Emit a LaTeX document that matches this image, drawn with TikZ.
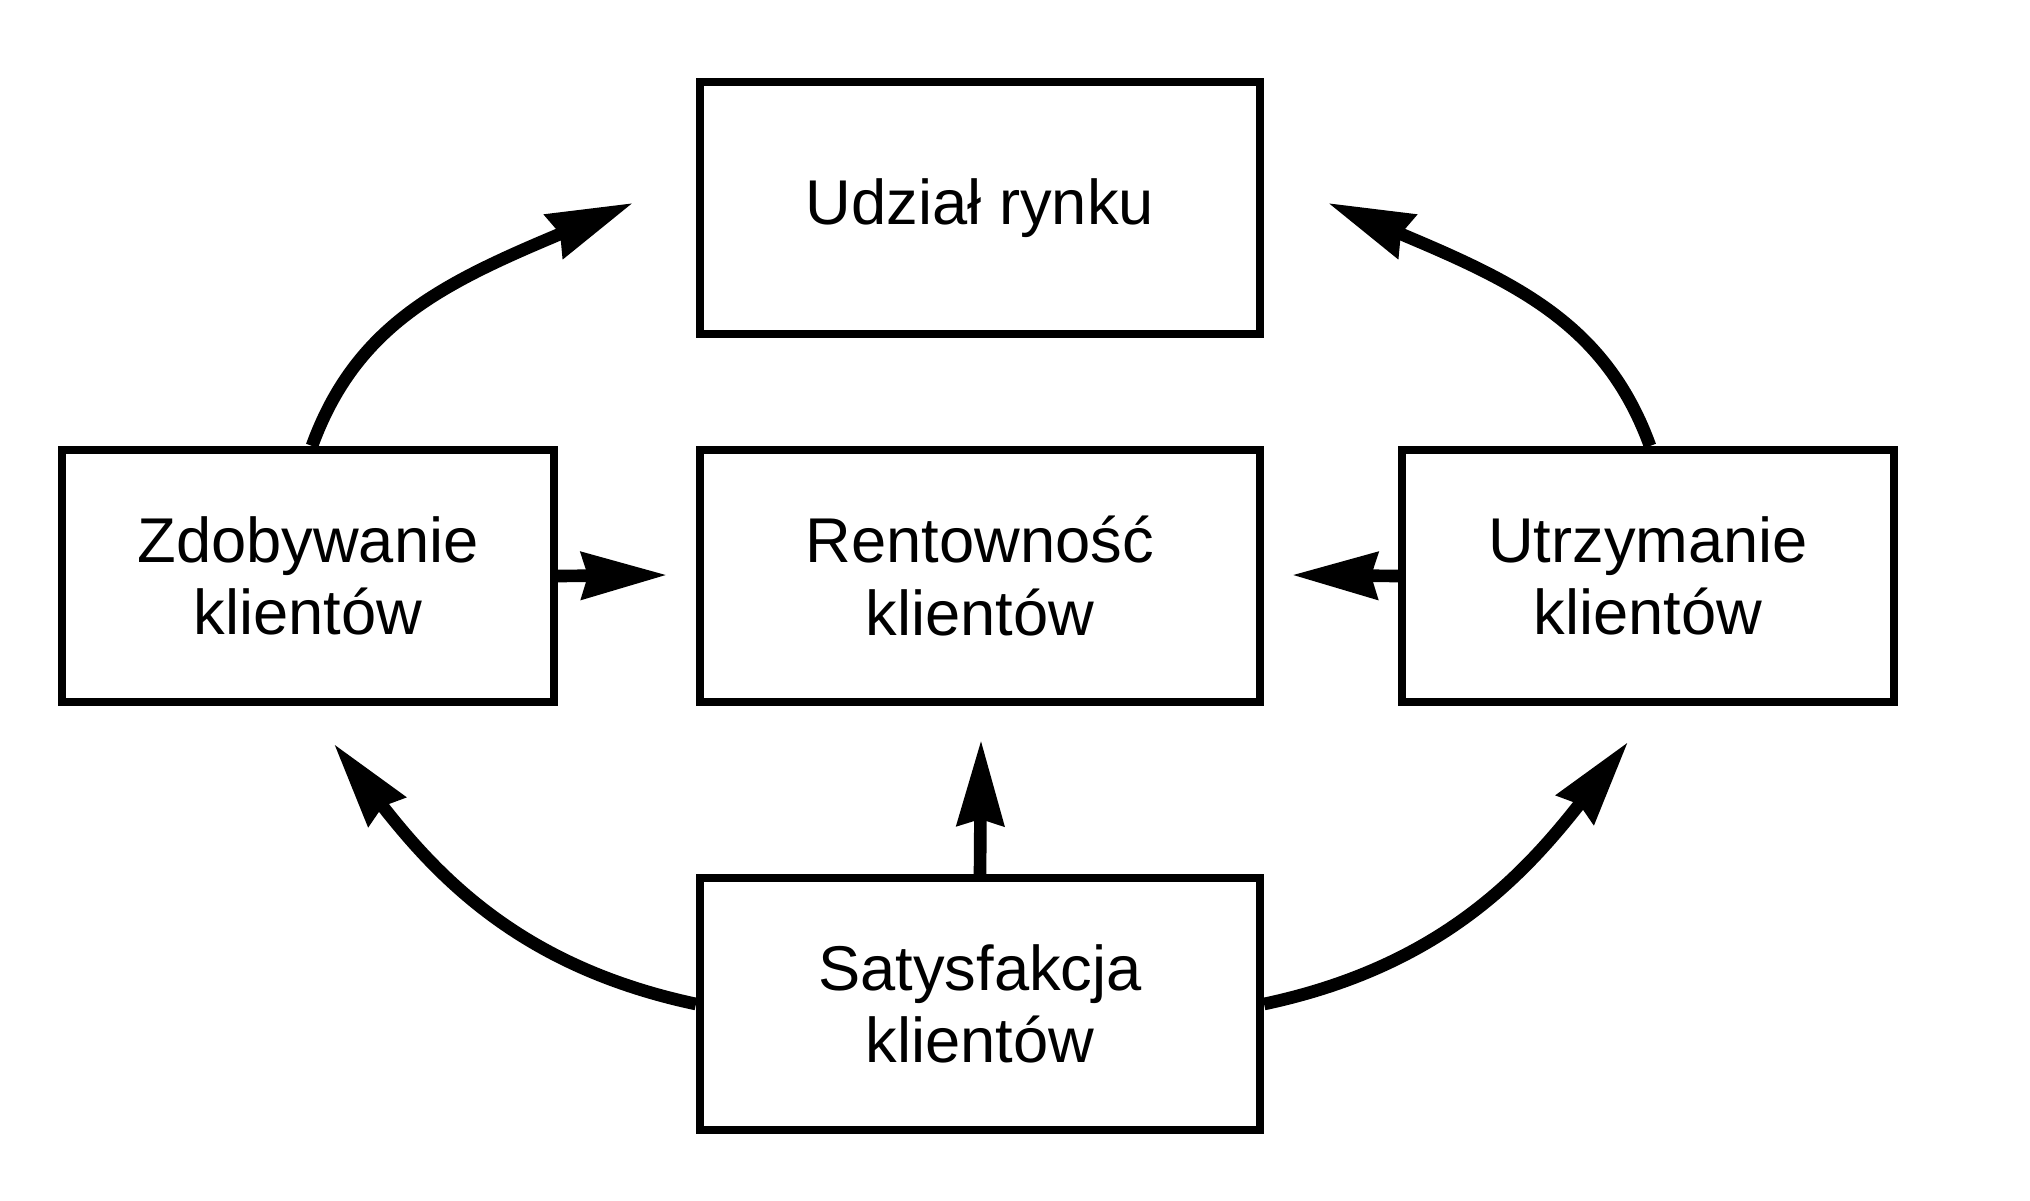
\documentclass[tikz,border=0pt]{standalone}
\usepackage{fontspec}
\setmainfont{Liberation Sans}
\usepackage{tikz}
\usetikzlibrary{arrows.meta}

\tikzset{
	box/.style={draw, line width=2.3pt, minimum width=5.6cm, minimum height=2.52cm, align=center, font=\fontsize{18}{20.5}\selectfont},
	sidebox/.style={box, minimum width=4.92cm},
	flow/.style={line width=3.6pt, -{Stealth[length=8.5mm, width=4.6mm, inset=0.6mm]}}
}

\begin{document}
\begin{tikzpicture}
				\useasboundingbox (0,0) rectangle (20.3,12);
				\node[box] (udzial) at (9.80,9.92) {Udział rynku};
				\node[box] (rentownosc) at (9.80,6.24) {Rentowność\\klientów};
				\node[sidebox] (zdobywanie) at (3.08,6.24) {Zdobywanie\\klientów};
				\node[sidebox] (utrzymanie) at (16.48,6.24) {Utrzymanie\\klientów};
				\node[box] (satysfakcja) at (9.80,1.96) {Satysfakcja\\klientów};
				\coordinate (tipUL) at (6.33,9.97);
				\coordinate (tipUR) at (13.28,9.97);
				\coordinate (tipML) at (6.67,6.25);
				\coordinate (tipMR) at (12.92,6.25);
				\coordinate (tipMB) at (9.81,4.60);
				\coordinate (tipBL) at (3.34,4.56);
				\coordinate (tipBR) at (16.28,4.58);
				\draw[flow] (zdobywanie.north) ++(0.04,0) to[out=70,in=203] ([shift={(203:0.95)}]tipUL) -- (tipUL);
				\draw[flow] (utrzymanie.north) ++(0.02,0) to[out=110,in=-23] ([shift={(-23:0.95)}]tipUR) -- (tipUR);
				\draw[flow] (zdobywanie.east) -- (tipML);
				\draw[flow] (utrzymanie.west) -- (tipMR);
				\draw[flow] (satysfakcja.north) -- (tipMB);
				\draw[flow] (satysfakcja.west) to[out=168,in=-52] (tipBL);
				\draw[flow] (satysfakcja.east) to[out=12,in=232] (tipBR);
			\end{tikzpicture}
\end{document}
